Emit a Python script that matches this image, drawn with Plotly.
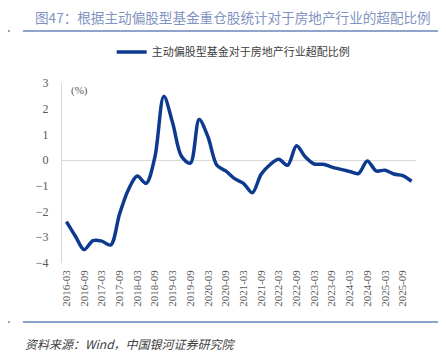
import plotly.graph_objects as go

quarters = [
    "2016-03", "2016-06", "2016-09", "2016-12",
    "2017-03", "2017-06", "2017-09", "2017-12",
    "2018-03", "2018-06", "2018-09", "2018-12",
    "2019-03", "2019-06", "2019-09", "2019-12",
    "2020-03", "2020-06", "2020-09", "2020-12",
    "2021-03", "2021-06", "2021-09", "2021-12",
    "2022-03", "2022-06", "2022-09", "2022-12",
    "2023-03", "2023-06", "2023-09", "2023-12",
    "2024-03", "2024-06", "2024-09", "2024-12",
    "2025-03", "2025-06", "2025-09", "2025-12",
]
overweight = [
    -2.39, -2.95, -3.48, -3.13,
    -3.15, -3.30, -2.10, -1.15,
    -0.62, -0.90, 0.13, 2.48,
    1.45, 0.15, -0.12, 1.58,
    0.90, -0.20, -0.42, -0.72,
    -0.90, -1.27, -0.55, -0.18,
    0.03, -0.20, 0.56, 0.12,
    -0.15, -0.16, -0.27, -0.36,
    -0.44, -0.52, -0.03, -0.42,
    -0.39, -0.54, -0.60, -0.82,
]
y_ticks = [3, 2, 1, 0, -1, -2, -3, -4]
x_ticks = [q for q in quarters if q.endswith("-03") or q.endswith("-09")]

series_name = "主动偏股型基金对于房地产行业超配比例"
title_text = "图47：根据主动偏股型基金重仓股统计对于房地产行业的超配比例"
source_text = "资料来源：Wind，中国银河证券研究院"

CJK = "Noto Sans CJK SC"
SERIF = "Liberation Serif"

# page body has an 8px margin; work in window pixels and convert
OFF = 8
WIN_W, WIN_H = 446, 356
W, H = WIN_W - OFF, WIN_H - OFF
PL, PR, PT, PB = 62, 415.6, 83, 263  # plot area in window pixels
L, T = PL - OFF, PT - OFF
R, B = WIN_W - PR, WIN_H - PB
pw, ph = PR - PL, PB - PT

def px_x(p):
    return (p - PL) / pw

def px_y(p):
    return (PB - p) / ph

fig = go.Figure()
fig.add_trace(go.Scatter(
    x=quarters, y=overweight, mode="lines", name=series_name,
    line=dict(color="#0d3a8e", width=3.5, shape="spline", smoothing=0.9),
))

rule_color = "#8fa3cd"
shapes = []
for yy in (31, 322):
    shapes.append(dict(type="line", xref="paper", yref="paper",
                       x0=px_x(23), x1=px_x(446), y0=px_y(yy), y1=px_y(yy),
                       line=dict(color=rule_color, width=2)))
    shapes.append(dict(type="line", xref="paper", yref="paper",
                       x0=px_x(OFF), x1=px_x(10), y0=px_y(yy), y1=px_y(yy),
                       line=dict(color=rule_color, width=2)))

fig.update_layout(
    width=W, height=H,
    margin=dict(l=L, r=R, t=T, b=B, pad=0, autoexpand=False),
    paper_bgcolor="white", plot_bgcolor="white",
    showlegend=True,
    legend=dict(orientation="h", x=px_x(233), xanchor="center",
                y=px_y(52), yanchor="middle",
                font=dict(family=CJK, size=11, color="#404040"),
                bgcolor="rgba(0,0,0,0)", itemwidth=30),
    title=dict(text=title_text, xref="container", yref="container",
               x=(35 - OFF) / W, xanchor="left",
               y=1 - (18 - OFF) / H, yanchor="middle",
               font=dict(family=CJK, size=13.6, color="#7f93c2")),
    xaxis=dict(type="category", range=[-0.5, len(quarters) - 0.5],
               tickmode="array", tickvals=x_ticks, ticktext=x_ticks,
               tickangle=-90, showgrid=False, showline=False, ticks="",
               ticklabelstandoff=4, automargin=False,
               tickfont=dict(family=SERIF, size=11, color="#595959")),
    yaxis=dict(range=[-4, 3], tickmode="array", tickvals=y_ticks,
               showgrid=False, zeroline=True, zerolinecolor="#d9d9d9",
               zerolinewidth=1.3, showline=True, linecolor="#d9d9d9",
               linewidth=1.3, ticks="", ticklabelstandoff=10, automargin=False,
               tickfont=dict(family=SERIF, size=12, color="#595959")),
    shapes=shapes,
    annotations=[
        dict(text="(%)", xref="paper", yref="paper", x=px_x(79), y=px_y(91),
             showarrow=False, xanchor="center", yanchor="middle",
             font=dict(family=SERIF, size=11, color="#595959")),
        dict(text="<i>" + source_text + "</i>", xref="paper", yref="paper",
             x=px_x(23), y=px_y(343), showarrow=False, xanchor="left",
             yanchor="middle",
             font=dict(family=CJK, size=12, color="#404040")),
    ],
)

fig.write_html("out.html")
